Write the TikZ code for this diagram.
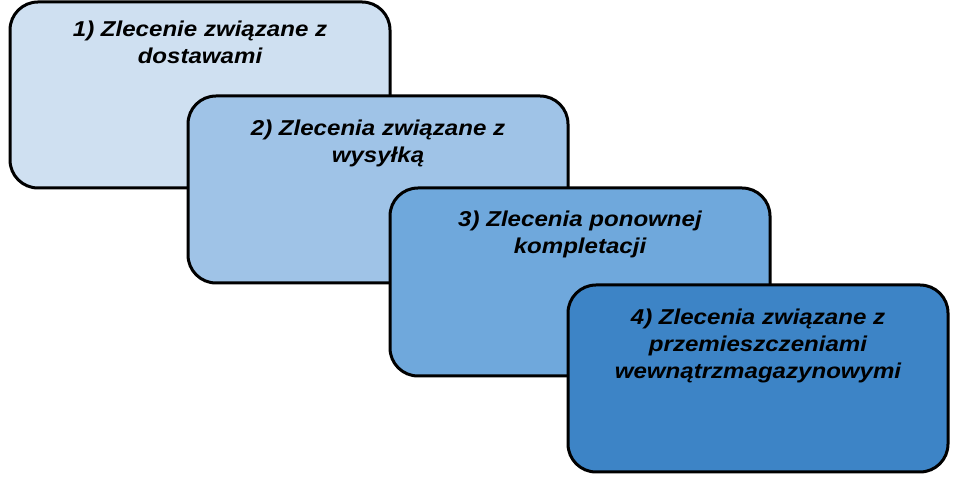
\documentclass[tikz,border=0pt]{standalone}
\usepackage{fontspec}
\setmainfont{Liberation Sans}
\newfontfamily\boxfont[FakeStretch=1.12]{Liberation Sans}
\definecolor{cA}{HTML}{CFE0F1}
\definecolor{cB}{HTML}{9FC3E7}
\definecolor{cC}{HTML}{6FA8DC}
\definecolor{cD}{HTML}{3D84C6}
\tikzset{
  box/.style={draw=black, line width=3pt, rounded corners=28pt, rectangle,
    minimum width=380pt, inner sep=0pt},
  lbl/.style={anchor=north, align=center, inner sep=0pt,
    font=\boxfont\fontsize{21.5}{27}\selectfont\bfseries\itshape}
}
\begin{document}
\begin{tikzpicture}[x=1pt,y=1pt]
\useasboundingbox (0,0) rectangle (958,494);
\node[box, fill=cA, minimum height=186pt] (b1) at (200,399) {};
\node[lbl] (t1) at ([yshift=-20.3pt]b1.north) {1) Zlecenie związane z\\dostawami};
\node[box, fill=cB, minimum height=187pt] (b2) at (378,304.5) {};
\node[lbl] (t2) at ([yshift=-25.3pt]b2.north) {2) Zlecenia związane z\\wysyłką};
\node[box, fill=cC, minimum height=188pt] (b3) at (580,212) {};
\node[lbl] (t3) at ([yshift=-24.6pt]b3.north) {3) Zlecenia ponownej\\kompletacji};
\node[box, fill=cD, minimum height=187pt] (b4) at (758,115.5) {};
\node[lbl] (t4) at ([yshift=-25.6pt]b4.north) {4) Zlecenia związane z\\przemieszczeniami\\wewnątrzmagazynowymi};
\end{tikzpicture}
\end{document}
